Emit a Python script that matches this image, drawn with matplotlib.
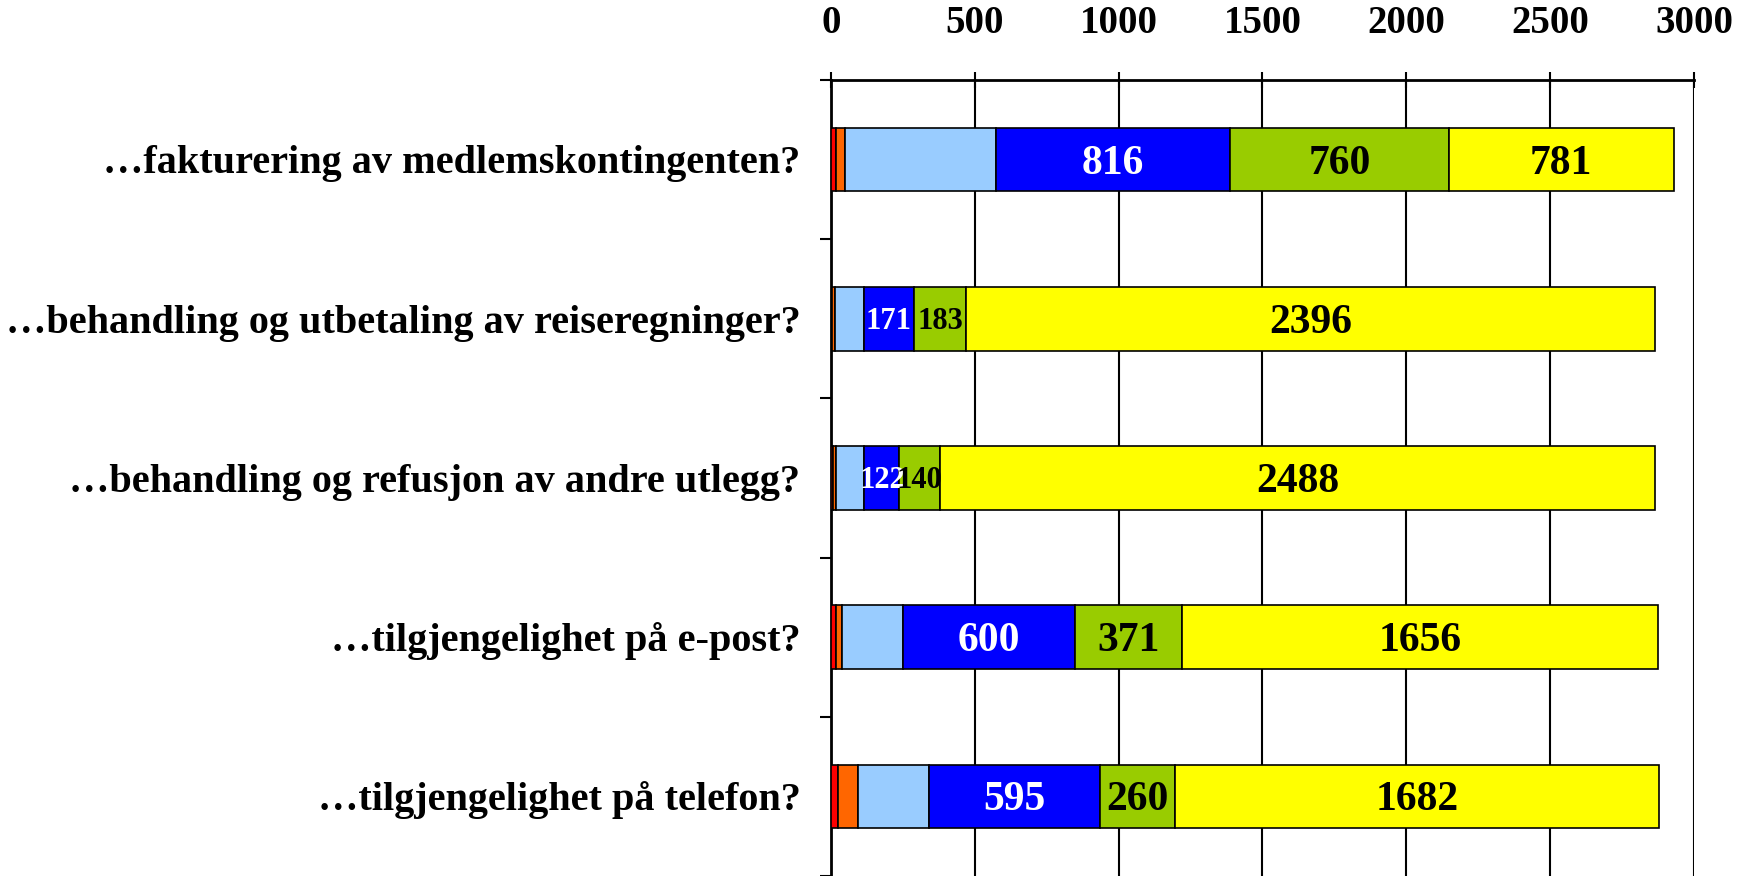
import matplotlib.pyplot as plt
import numpy as np

plt.rcParams['font.family'] = ['Liberation Serif', 'DejaVu Serif']
plt.rcParams['font.weight'] = 'bold'

categories = [
    "\u2026fakturering av medlemskontingenten?",
    "\u2026behandling og utbetaling av reiseregninger?",
    "\u2026behandling og refusjon av andre utlegg?",
    "\u2026tilgjengelighet p\u00e5 e-post?",
    "\u2026tilgjengelighet p\u00e5 telefon?",
]

# segment values per category, left to right
red = [16, 5, 6, 16, 23]
orange = [33, 8, 10, 21, 70]
lightblue = [523, 103, 100, 212, 248]
blue = [816, 171, 122, 600, 595]
green = [760, 183, 140, 371, 260]
yellow = [781, 2396, 2488, 1656, 1682]

series = [red, orange, lightblue, blue, green, yellow]
colors = ["#FF0000", "#FF6600", "#99CCFF", "#0000FF", "#99CC00", "#FFFF00"]
text_colors = [None, None, None, "white", "black", "black"]

fig = plt.figure(figsize=(17.48, 8.76), dpi=100)
ax = fig.add_axes([0.4754, 0.0, 0.9691 - 0.4754, 0.9087])

y = np.arange(len(categories))
left = np.zeros(len(categories))
for vals, col, tcol in zip(series, colors, text_colors):
    vals = np.array(vals, dtype=float)
    ax.barh(y, vals, left=left, height=0.4, color=col, edgecolor="black",
            linewidth=1.2, zorder=3)
    if tcol is not None:
        for yi, (l, v) in enumerate(zip(left, vals)):
            # narrow segments get a smaller label
            if v >= 200:
                fs, dy = 30, 0.088
            else:
                fs, dy = 22, 0.066
            ax.text(l + v / 2, yi + dy, str(int(v)), ha="center", va="baseline",
                    color=tcol, fontsize=fs, fontweight="bold", zorder=4)
    left += vals

ax.set_xlim(0, 3000)
ax.set_ylim(len(categories) - 0.5, -0.5)
ax.set_xticks(np.arange(0, 3001, 500))
ax.xaxis.tick_top()
ax.tick_params(axis="x", direction="inout", length=12, width=1.5,
               labelsize=28, pad=21)
ax.grid(axis="x", color="black", linewidth=1.5, zorder=0)

ax.set_yticks(np.arange(len(categories) + 1) - 0.5)
ax.set_yticklabels([])
ax.tick_params(axis="y", which="major", direction="out", length=8, width=1.5)
ax.set_yticks(y, minor=True)
ax.set_yticklabels(categories, minor=True, va="baseline")
for lab in ax.get_yticklabels(minor=True):
    lab.set_y(lab.get_position()[1])
ax.tick_params(axis="y", which="minor", length=0, labelsize=29, pad=22)
# shift category labels down so the caps sit centred on the bar
import matplotlib.transforms as mtransforms
offset = mtransforms.ScaledTranslation(0, -10 / 72, fig.dpi_scale_trans)
for lab in ax.yaxis.get_minorticklabels():
    lab.set_transform(lab.get_transform() + offset)

for s in ["right", "bottom"]:
    ax.spines[s].set_visible(False)
ax.spines["left"].set_linewidth(2)
ax.spines["top"].set_linewidth(2)

fig.savefig("out.png", dpi=100)
